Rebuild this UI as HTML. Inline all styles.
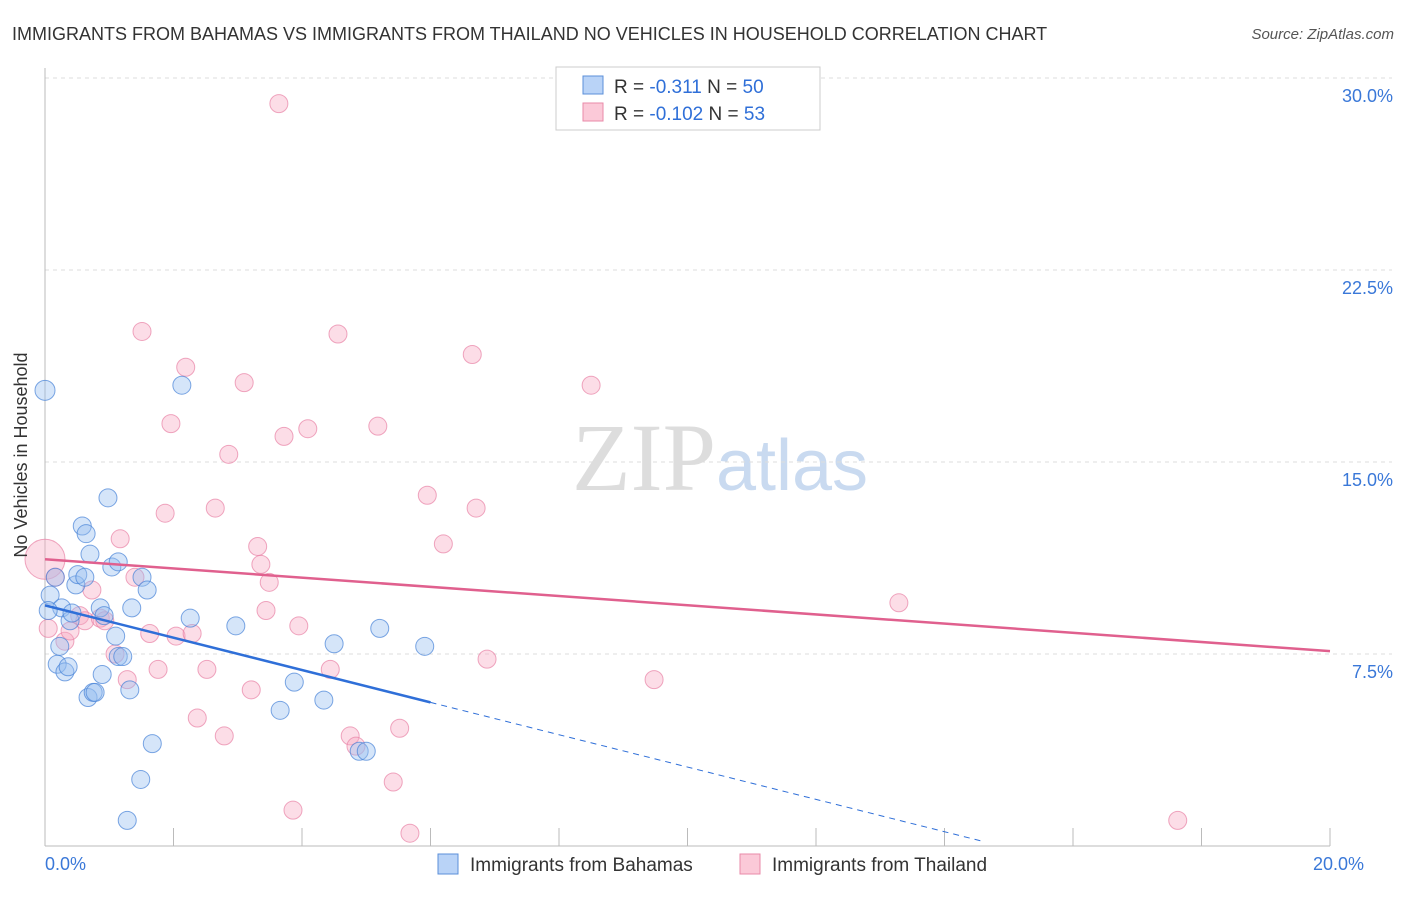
<!DOCTYPE html>
<html><head><meta charset="utf-8"><style>
body{margin:0;background:#fff;font-family:"Liberation Sans",sans-serif;}
</style></head><body>
<svg width="1406" height="892" xmlns="http://www.w3.org/2000/svg" font-family="Liberation Sans, sans-serif">
<text x="12" y="40" font-size="18" fill="#333">IMMIGRANTS FROM BAHAMAS VS IMMIGRANTS FROM THAILAND NO VEHICLES IN HOUSEHOLD CORRELATION CHART</text>
<text x="1394" y="39" font-size="15" fill="#555" font-style="italic" text-anchor="end">Source: ZipAtlas.com</text>
<text x="720" y="490" font-size="96" fill="#ddd" text-anchor="middle" font-family="Liberation Serif, serif">ZIP<tspan fill="#c9daf0" font-family="Liberation Sans, sans-serif" font-size="72">atlas</tspan></text>
<g id="grid"></g>
<g id="axes"></g>
<g id="marks"></g>
<text x="27" y="455" font-size="18" fill="#333" text-anchor="middle" transform="rotate(-90 27 455)">No Vehicles in Household</text>
<g>
<rect x="556" y="67" width="264" height="63" fill="#fff" stroke="#ccc"/>
<rect x="583" y="76" width="20" height="18" fill="#b9d3f7" stroke="#5b8fd8"/>
<rect x="583" y="103" width="20" height="18" fill="#fbc9d8" stroke="#e88aa8"/>
<text x="614" y="93" font-size="19" fill="#333">R = <tspan fill="#2f6fd8">-0.311</tspan>   N = <tspan fill="#2f6fd8">50</tspan></text>
<text x="614" y="120" font-size="19" fill="#333">R = <tspan fill="#2f6fd8">-0.102</tspan>   N = <tspan fill="#2f6fd8">53</tspan></text>
</g>
<g>
<rect x="438" y="854" width="20" height="20" fill="#b9d3f7" stroke="#5b8fd8"/>
<text x="470" y="871" font-size="19" fill="#333">Immigrants from Bahamas</text>
<rect x="740" y="854" width="20" height="20" fill="#fbc9d8" stroke="#e88aa8"/>
<text x="772" y="871" font-size="19" fill="#333">Immigrants from Thailand</text>
</g>
</svg>
<script>
const yTicks=[7.5,15,22.5,30];
const yTickLabels=["7.5%","15.0%","22.5%","30.0%"];
const xTickLabels=["0.0%","20.0%"];
const bahamasX=[0.0,0.08,0.16,0.23,0.19,0.26,0.31,0.36,0.39,0.42,0.48,0.51,0.58,0.62,0.64,0.70,0.67,0.75,0.78,0.86,0.89,0.92,0.98,1.04,1.10,1.14,1.14,1.21,1.28,1.32,1.35,1.49,1.51,1.59,1.67,2.13,2.26,2.97,3.66,3.88,4.34,4.50,4.89,5.00,5.21,5.91,0.05];
const bahamasY=[17.8,9.8,10.5,7.8,7.1,9.3,6.8,7.0,8.8,9.1,10.2,10.6,12.5,10.5,12.2,11.4,5.8,6.0,6.0,9.3,6.7,9.0,13.6,10.9,8.2,7.4,11.1,7.4,1.0,6.1,9.3,2.6,10.5,10.0,4.0,18.0,8.9,8.6,5.3,6.4,5.7,7.9,3.7,3.7,8.5,7.8,9.2];
const thailandX=[0.0,0.05,0.16,0.31,0.39,0.54,0.62,0.73,0.86,0.93,1.09,1.17,1.28,1.40,1.51,1.63,1.76,1.87,1.96,2.04,2.19,2.29,2.37,2.52,2.65,2.79,2.86,3.10,3.21,3.31,3.36,3.44,3.49,3.72,3.86,3.95,4.09,4.44,4.56,4.75,4.84,5.18,5.42,5.52,5.68,5.95,6.20,6.65,6.71,6.88,8.50,9.48,13.29,17.63,3.64];
const thailandY=[11.2,8.5,10.5,8.0,8.4,9.0,8.8,10.0,8.9,8.8,7.5,12.0,6.5,10.5,20.1,8.3,6.9,13.0,16.5,8.2,18.7,8.3,5.0,6.9,13.2,4.3,15.3,18.1,6.1,11.7,11.0,9.2,10.3,16.0,1.4,8.6,16.3,6.9,20.0,4.3,3.9,16.4,2.5,4.6,0.5,13.7,11.8,19.2,13.2,7.3,18.0,6.5,9.5,1.0,29.0];
const bahamasR=[10,9,9,9,9,9,9,9,9,9,9,9,9,9,9,9,9,9,9,9,9,9,9,9,9,9,9,9,9,9,9,9,9,9,9,9,9,9,9,9,9,9,9,9,9,9,9];
const lineBahamas=[9.4,-0.6316]; // intercept, slope (% per %x)
const lineThailand=[11.2,-0.1795];
const bahamasSolidEnd=6.0, bahamasDashEnd=14.6;
const X=v=>45+v*64.25, Y=v=>846-v*25.6;
const NS="http://www.w3.org/2000/svg";
function mk(t,a,p){const e=document.createElementNS(NS,t);for(const k in a)e.setAttribute(k,a[k]);p.appendChild(e);return e;}
const grid=document.getElementById('grid'),axes=document.getElementById('axes'),marks=document.getElementById('marks');
yTicks.forEach((t,i)=>{
 const l=mk('line',{x1:45,x2:1392,y1:Y(t),y2:Y(t),stroke:'#ddd','stroke-dasharray':'4,4'},grid);
 
 
 const tx=mk('text',{x:1393,y:Y(t)+24,'font-size':18,fill:'#3a78d8','text-anchor':'end'},axes);
 tx.textContent=yTickLabels[i];
 
 
});
mk('line',{x1:45,x2:45,y1:68,y2:846,stroke:'#bbb'},axes);
mk('line',{x1:45,x2:1330,y1:846,y2:846,stroke:'#bbb'},axes);
for(let i=0;i<=10;i++){const t=mk('line',{x1:X(i*2),x2:X(i*2),y1:828,y2:846,stroke:'#bbb'},axes);
 
 }
[[0,'start'],[20,'end']].forEach((d,i)=>{const t=mk('text',{x:X(d[0])+(i?34:0),y:870,'font-size':18,fill:'#3a78d8','text-anchor':d[1]},axes);t.textContent=xTickLabels[i];
 
 });
thailandX.forEach((x,i)=>{const c=mk('circle',{cx:X(x),cy:Y(thailandY[i]),r:i==0?20:9,fill:'rgba(247,170,195,0.4)',stroke:'rgba(232,130,165,0.7)'},marks);
 
 });
bahamasX.forEach((x,i)=>{const c=mk('circle',{cx:X(x),cy:Y(bahamasY[i]),r:bahamasR[i],fill:'rgba(150,190,240,0.4)',stroke:'rgba(70,130,215,0.7)'},marks);
 
 });
const f=(L,x)=>L[0]+L[1]*x;
let l=mk('line',{x1:X(0),y1:Y(f(lineThailand,0)),x2:X(20),y2:Y(f(lineThailand,20)),stroke:'#e0608e','stroke-width':2.5},marks);


l=mk('line',{x1:X(0),y1:Y(f(lineBahamas,0)),x2:X(bahamasSolidEnd),y2:Y(f(lineBahamas,bahamasSolidEnd)),stroke:'#2f6fd8','stroke-width':2.5},marks);


l=mk('line',{x1:X(bahamasSolidEnd),y1:Y(f(lineBahamas,bahamasSolidEnd)),x2:X(bahamasDashEnd),y2:Y(f(lineBahamas,bahamasDashEnd)),stroke:'#2f6fd8','stroke-width':1,'stroke-dasharray':'6,5'},marks);


</script>
</body></html>
